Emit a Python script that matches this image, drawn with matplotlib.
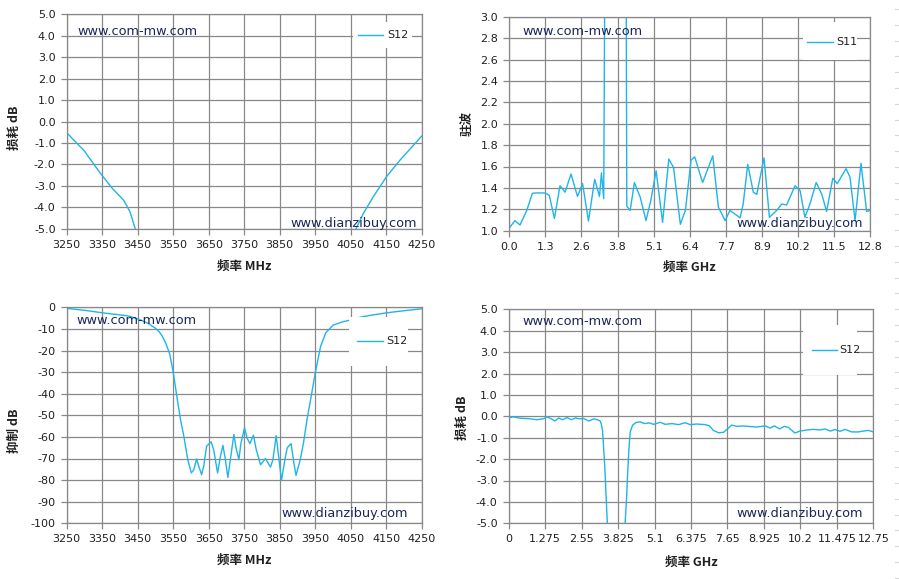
import numpy as np
import matplotlib
matplotlib.use("Agg")
import matplotlib.pyplot as plt
from matplotlib.patches import Rectangle
from matplotlib.lines import Line2D

plt.rcParams['font.family'] = ['DejaVu Sans', 'Noto Sans CJK SC']
plt.rcParams['axes.unicode_minus'] = False

# S12 narrow band (MHz, dB) - used for both left panels
f_mhz = [3250, 3300, 3345, 3380, 3410, 3428, 3443, 3460, 3480, 3500, 3510, 3520,
         3530, 3540, 3550, 3560, 3570, 3580, 3591, 3601, 3608, 3616, 3622, 3630,
         3636, 3644, 3657, 3664, 3675, 3683, 3690, 3697, 3704, 3711, 3721, 3727,
         3735, 3741, 3751, 3758, 3766, 3776, 3784, 3796, 3810, 3824, 3831, 3840,
         3847, 3855, 3863, 3871, 3882, 3890, 3896, 3908, 3917, 3927, 3940, 3950,
         3965, 3980, 4001, 4030, 4050, 4065, 4086, 4114, 4151, 4189, 4250]
s12_narrow = [-0.52, -1.38, -2.42, -3.15, -3.66, -4.2, -5.0, -6.0, -7.5, -9.7, -11.2, -13.6,
              -17.0, -21.5, -30.0, -41.0, -51.5, -59.7, -70.5, -76.7, -75.2, -70.2, -73.6, -77.5,
              -73.6, -64.3, -62.3, -65.9, -76.7, -69.0, -63.9, -70.5, -78.8, -70.5, -58.9, -65.1,
              -70.5, -62.8, -55.8, -60.5, -63.1, -59.2, -65.9, -72.9, -70.0, -74.0, -70.5, -59.4,
              -69.0, -80.2, -72.1, -65.1, -63.1, -72.1, -77.8, -70.5, -62.8, -51.9, -40.0, -30.5,
              -18.2, -11.7, -8.2, -6.6, -5.9, -5.0, -4.28, -3.5, -2.57, -1.8, -0.68]

# S11 VSWR wide band (GHz)
f_vswr = [0.0, 0.20, 0.38, 0.62, 0.82, 0.97, 1.27, 1.42, 1.60, 1.80, 1.98, 2.19, 2.42,
          2.60, 2.81, 3.03, 3.20, 3.27, 3.35, 3.40, 4.14, 4.17, 4.29, 4.44, 4.65, 4.85,
          5.02, 5.21, 5.44, 5.66, 5.83, 6.07, 6.25, 6.45, 6.58, 6.86, 7.22, 7.42, 7.66,
          7.83, 8.19, 8.30, 8.46, 8.66, 8.78, 9.04, 9.23, 9.49, 9.67, 9.84, 10.14, 10.32,
          10.49, 10.67, 10.89, 11.09, 11.26, 11.48, 11.64, 11.95, 12.09, 12.27, 12.48, 12.68, 12.80]
vswr = [1.025, 1.094, 1.053, 1.19, 1.35, 1.353, 1.353, 1.33, 1.115, 1.42, 1.36, 1.53, 1.32,
        1.44, 1.09, 1.48, 1.32, 1.54, 1.30, 4.0, 4.0, 1.23, 1.19, 1.45, 1.31, 1.094,
        1.28, 1.56, 1.078, 1.67, 1.59, 1.06, 1.19, 1.66, 1.69, 1.45, 1.70, 1.22, 1.094,
        1.19, 1.12, 1.25, 1.62, 1.36, 1.34, 1.68, 1.125, 1.19, 1.25, 1.24, 1.42, 1.375,
        1.125, 1.25, 1.45, 1.34, 1.18, 1.49, 1.44, 1.58, 1.50, 1.094, 1.63, 1.18, 1.19]

# S12 wide band (GHz, dB)
f_wide = [0.0, 0.17, 0.41, 0.70, 0.99, 1.22, 1.34, 1.47, 1.61, 1.75, 1.89, 2.04, 2.19,
          2.33, 2.48, 2.62, 2.80, 2.97, 3.10, 3.20, 3.24, 3.28, 3.31, 3.36, 3.40, 3.45,
          3.60, 3.95, 4.07, 4.12, 4.16, 4.21, 4.25, 4.33, 4.45, 4.60, 4.74, 4.91, 5.07,
          5.30, 5.47, 5.71, 5.94, 6.17, 6.35, 6.58, 6.87, 7.01, 7.16, 7.34, 7.51, 7.66,
          7.80, 7.98, 8.21, 8.44, 8.67, 8.97, 9.14, 9.29, 9.47, 9.64, 9.78, 10.01, 10.19,
          10.42, 10.65, 10.89, 11.06, 11.24, 11.41, 11.59, 11.76, 11.99, 12.23, 12.40, 12.58, 12.75]
s12_wide = [-0.06, -0.03, -0.09, -0.11, -0.16, -0.11, -0.03, -0.10, -0.22, -0.08, -0.16, -0.06, -0.16,
            -0.08, -0.12, -0.10, -0.22, -0.12, -0.16, -0.22, -0.37, -0.65, -1.27, -2.35, -3.58, -5.0,
            -30.0, -30.0, -5.0, -3.89, -2.65, -1.42, -0.73, -0.42, -0.29, -0.26, -0.34, -0.31, -0.375,
            -0.28, -0.375, -0.34, -0.39, -0.30, -0.39, -0.36, -0.39, -0.44, -0.66, -0.77, -0.75, -0.58,
            -0.41, -0.47, -0.45, -0.48, -0.50, -0.45, -0.55, -0.45, -0.59, -0.47, -0.52, -0.78, -0.69,
            -0.64, -0.61, -0.64, -0.59, -0.69, -0.62, -0.70, -0.61, -0.73, -0.73, -0.69, -0.66, -0.73]

ghz_labels_a = ['0.0', '1.3', '2.6', '3.8', '5.1', '6.4', '7.7', '8.9', '10.2', '11.5', '12.8']
ghz_labels_b = ['0', '1.275', '2.55', '3.825', '5.1', '6.375', '7.65', '8.925', '10.2', '11.475', '12.75']

LINE = '#1fb4ea'
GRID = '#888888'
WM = '#1c2658'
W, H = 899, 579

fig = plt.figure(figsize=(W / 100, H / 100), dpi=100)


def px_axes(x0, y0, x1, y1):
    return fig.add_axes([x0 / W, 1 - y1 / H, (x1 - x0) / W, (y1 - y0) / H])


def style(ax, xlim, xticks, xlabels, ylim, yticks, ylabels, xlabel, ylabel, ylab_pos, xlab_y):
    ax.set_xlim(xlim)
    ax.set_ylim(ylim)
    ax.set_xticks(xticks)
    ax.set_xticklabels(xlabels)
    ax.set_yticks(yticks)
    ax.set_yticklabels(ylabels)
    ax.grid(True, color=GRID, lw=0.9)
    ax.set_axisbelow(True)
    for s in ax.spines.values():
        s.set_color(GRID)
        s.set_linewidth(0.9)
    ax.tick_params(length=4, width=0.9, color=GRID, labelsize=8, pad=4, labelcolor='#202020')
    lab = dict(family=['Noto Sans CJK SC', 'DejaVu Sans'], weight='bold', size=9, color='#202020')
    ax.set_xlabel(xlabel, **lab)
    ax.xaxis.set_label_coords(0.5, xlab_y)
    ax.set_ylabel(ylabel, **lab)
    ax.yaxis.set_label_coords(*ylab_pos)


def legend_box(x0, y0, x1, y1, ly, lx0, lx1, tx, name):
    fig.patches.append(Rectangle((x0 / W, 1 - y1 / H), (x1 - x0) / W, (y1 - y0) / H,
                                 transform=fig.transFigure, facecolor='white',
                                 edgecolor='none', zorder=5))
    fig.lines.append(Line2D([lx0 / W, lx1 / W], [1 - ly / H, 1 - ly / H],
                            transform=fig.transFigure, color=LINE, lw=1.0, zorder=6))
    fig.text(tx / W, 1 - ly / H, name, ha='left', va='center', size=8, color='#202020', zorder=6)


def marks(xl, yl, xr, yr):
    fig.text(xl / W, 1 - yl / H, 'www.com-mw.com', ha='left', va='center', size=9.3, color=WM, zorder=7)
    fig.text(xr / W, 1 - yr / H, 'www.dianzibuy.com', ha='right', va='center', size=9.3, color=WM, zorder=7)


mhz_ticks = np.arange(3250, 4251, 100)
mhz_labels = [str(t) for t in mhz_ticks]

# panel 1: S12 insertion loss, narrow band
ax1 = px_axes(66.7, 14.3, 421.7, 228.7)
ax1.plot(f_mhz, s12_narrow, color=LINE, lw=1.0)
yt = np.arange(-5, 5.1, 1.0)
style(ax1, (3250, 4250), mhz_ticks, mhz_labels, (-5, 5), yt, ['%.1f' % v for v in yt],
      '频率 MHz', '损耗 dB', (-0.128, 0.47), -0.145)
legend_box(353, 22, 412, 48, 35, 358, 383, 387, 'S12')
marks(77.3, 31.7, 416.7, 223.3)

# panel 2: VSWR
ax2 = px_axes(509.3, 16.7, 870, 230.7)
ax2.plot(f_vswr, vswr, color=LINE, lw=1.0)
yt = np.arange(1.0, 3.01, 0.2)
style(ax2, (0, 12.8), np.linspace(0, 12.8, 11), ghz_labels_a, (1.0, 3.0), yt,
      ['%.1f' % v for v in yt], '频率 GHz', '驻波', (-0.098, 0.50), -0.14)
legend_box(803, 22, 857, 60, 41.7, 807, 833, 836.7, 'S11')
marks(522.7, 31.7, 862.7, 223.3)

# panel 3: S12 rejection
ax3 = px_axes(66.7, 307.3, 421.7, 523.3)
ax3.plot(f_mhz, s12_narrow, color=LINE, lw=1.0)
yt = np.arange(-100, 1, 10)
style(ax3, (3250, 4250), mhz_ticks, mhz_labels, (-100, 0), yt, ['%d' % v for v in yt],
      '频率 MHz', '抑制 dB', (-0.128, 0.427), -0.142)
legend_box(349, 317, 408, 366, 341, 357, 383, 386, 'S12')
marks(76, 320.7, 408.3, 513.3)

# panel 4: S12 wide band
ax4 = px_axes(508.7, 309.3, 873.3, 523.3)
ax4.plot(f_wide, s12_wide, color=LINE, lw=1.0)
yt = np.arange(-5, 5.1, 1.0)
style(ax4, (0, 12.75), np.linspace(0, 12.75, 11), ghz_labels_b, (-5, 5), yt,
      ['%.1f' % v for v in yt], '频率 GHz', '损耗 dB', (-0.109, 0.494), -0.151)
legend_box(803, 325, 857, 375, 350, 811.7, 836.7, 839.3, 'S12')
marks(522.7, 321.7, 862.7, 513.3)

# faint sheet grid marks at the right edge
for yy in np.arange(9, H, 15.8):
    fig.lines.append(Line2D([895 / W, 899 / W], [1 - yy / H, 1 - yy / H],
                            transform=fig.transFigure, color='#d8d8d8', lw=0.8))

fig.savefig('out.png', dpi=100, facecolor='white')
